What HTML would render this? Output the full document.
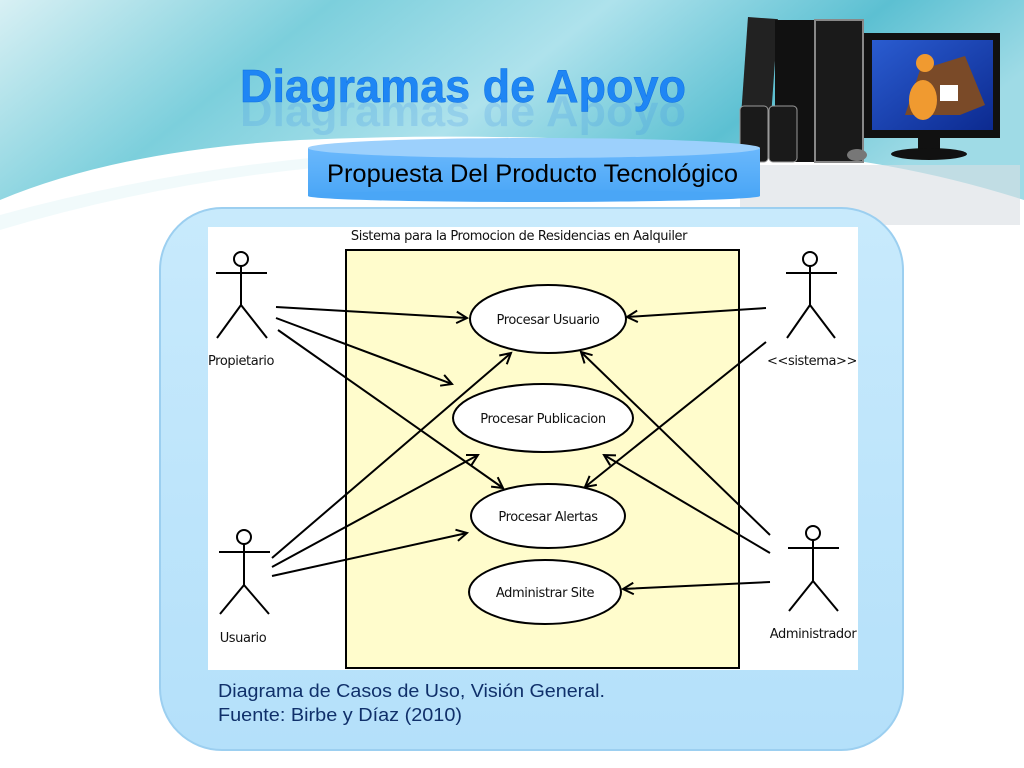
<!DOCTYPE html>
<html><head><meta charset="utf-8"><style>
html,body{margin:0;padding:0}
body{width:1024px;height:768px;position:relative;overflow:hidden;background:#fff;font-family:"Liberation Sans",sans-serif}
.abs{position:absolute}
</style></head><body>
<svg class="abs" style="left:0;top:0" width="1024" height="768">
<defs>
<linearGradient id="bg" x1="0" y1="0" x2="1" y2="0.3">
<stop offset="0" stop-color="#d8f0f4"/><stop offset="0.3" stop-color="#7ccfdc"/><stop offset="0.55" stop-color="#aee2ec"/><stop offset="0.8" stop-color="#5cc0d2"/><stop offset="1" stop-color="#9fdbe6"/>
</linearGradient>
<linearGradient id="pan" x1="0" y1="0" x2="0" y2="1"><stop offset="0" stop-color="#c8eafc"/><stop offset="1" stop-color="#b4e0fa"/></linearGradient>
<linearGradient id="cyl" x1="0" y1="0" x2="0" y2="1"><stop offset="0" stop-color="#6ab8fc"/><stop offset="1" stop-color="#4aa6f6"/></linearGradient>
<linearGradient id="scr" x1="0" y1="0" x2="1" y2="1"><stop offset="0" stop-color="#2a5cd0"/><stop offset="1" stop-color="#0c2a90"/></linearGradient>
</defs>
<rect width="1024" height="240" fill="url(#bg)"/>
<path d="M0,200 Q120,150 300,140 Q520,130 760,150 Q900,160 1024,200 L1024,768 L0,768Z" fill="#fff"/>
<path d="M0,215 Q200,160 420,150 L420,160 Q200,170 0,230Z" fill="#e8f6f8" opacity="0.6"/>
<rect x="740" y="165" width="280" height="60" fill="#d8dde2" opacity="0.6"/>
<rect x="745" y="18" width="30" height="98" fill="#222" transform="rotate(4 760 60)"/>
<rect x="775" y="20" width="88" height="142" fill="#111"/>
<rect x="815" y="20" width="48" height="142" fill="#1a1a1a" stroke="#888" stroke-width="2"/>
<rect x="740" y="106" width="28" height="56" rx="4" fill="#1a1a1a" stroke="#999"/>
<rect x="769" y="106" width="28" height="56" rx="4" fill="#1a1a1a" stroke="#999"/>
<ellipse cx="857" cy="155" rx="10" ry="6" fill="#777"/>
<rect x="864" y="33" width="136" height="105" fill="#111"/>
<rect x="872" y="40" width="121" height="90" fill="url(#scr)"/>
<polygon points="905,115 920,70 965,56 985,105 960,115" fill="#7a4a28"/>
<ellipse cx="923" cy="100" rx="14" ry="20" fill="#f09a30"/>
<circle cx="925" cy="63" r="9" fill="#f09a30"/>
<rect x="940" y="85" width="18" height="16" fill="#fff"/>
<rect x="918" y="138" width="22" height="12" fill="#111"/>
<ellipse cx="929" cy="154" rx="38" ry="6" fill="#111"/>
<rect x="160" y="208" width="743" height="542" rx="62" fill="url(#pan)" stroke="#9ccff0" stroke-width="2"/>
<rect x="308" y="148" width="452" height="48" fill="url(#cyl)"/>
<ellipse cx="534" cy="196" rx="226" ry="6" fill="#4aa6f6"/>
<ellipse cx="534" cy="148" rx="226" ry="10" fill="#9cd0fc"/>
<rect x="208" y="227" width="650" height="443" fill="#fff"/>
<rect x="346" y="250" width="393" height="418" fill="#fffccc" stroke="#000" stroke-width="2"/>
<g fill="#fff" stroke="#000" stroke-width="2">
<ellipse cx="548" cy="319" rx="78" ry="34"/>
<ellipse cx="543" cy="418" rx="90" ry="34"/>
<ellipse cx="548" cy="516" rx="77" ry="32"/>
<ellipse cx="545" cy="592" rx="76" ry="32"/>
</g>
<g font-family="DejaVu Sans,sans-serif" font-size="13" text-anchor="middle" fill="#111" style="letter-spacing:-0.4px">
<text x="548" y="324">Procesar Usuario</text>
<text x="543" y="423">Procesar Publicacion</text>
<text x="548" y="521">Procesar Alertas</text>
<text x="545" y="597">Administrar Site</text>
<text x="519" y="240">Sistema para la Promocion de Residencias en Aalquiler</text>
<text x="241" y="365">Propietario</text>
<text x="812" y="365">&lt;&lt;sistema&gt;&gt;</text>
<text x="243" y="642">Usuario</text>
<text x="813" y="638">Administrador</text>
</g>
<g stroke="#000" stroke-width="2" fill="none">
<circle cx="241" cy="259" r="7"/><path d="M216,273H267M241,266V305L217,338M241,305L267,338"/>
<circle cx="810" cy="259" r="7"/><path d="M786,273H837M810,266V305L787,338M810,305L835,338"/>
<circle cx="244" cy="537" r="7"/><path d="M219,552H270M244,544V585L220,614M244,585L269,614"/>
<circle cx="813" cy="533" r="7"/><path d="M788,548H839M813,540V581L789,611M813,581L838,611"/>
<path d="M276,307L467,318M276,318L452,384M278,330L503,488M272,558L511,353M272,567L478,455M272,576L467,533M766,308L627,317M766,342L585,487M770,535L581,352M770,553L604,455M770,582L623,589"/>
</g>
<g stroke="#000" stroke-width="2" fill="none" id="heads"></g>
<text x="218" y="697" font-size="18" fill="#10306a" textLength="387" lengthAdjust="spacingAndGlyphs">Diagrama de Casos de Uso, Visión General.</text>
<text x="218" y="721" font-size="18" fill="#10306a" textLength="244" lengthAdjust="spacingAndGlyphs">Fuente: Birbe y Díaz (2010)</text>
<text x="327" y="182" font-size="25" fill="#000" textLength="411" lengthAdjust="spacingAndGlyphs">Propuesta Del Producto Tecnológico</text>
<text x="240" y="126" font-size="44" font-weight="bold" fill="#3a8ee8" opacity="0.2" textLength="446" lengthAdjust="spacingAndGlyphs">Diagramas de Apoyo</text>
<text x="240" y="102" font-size="46" font-weight="bold" fill="#1f86f4" stroke="#1070e0" stroke-width="0.5" textLength="446" lengthAdjust="spacingAndGlyphs">Diagramas de Apoyo</text>
</svg>
<script>
var L=[[276,307,467,318],[276,318,452,384],[278,330,503,488],[272,558,511,353],[272,567,478,455],[272,576,467,533],[766,308,627,317],[766,342,585,487],[770,535,581,352],[770,553,604,455],[770,582,623,589]];
var g=document.getElementById('heads'),s='';
L.forEach(function(l){var dx=l[2]-l[0],dy=l[3]-l[1],a=Math.atan2(dy,dx),n=12,w=0.5;
var x1=l[2]-n*Math.cos(a-w),y1=l[3]-n*Math.sin(a-w),x2=l[2]-n*Math.cos(a+w),y2=l[3]-n*Math.sin(a+w);
s+='<path d="M'+x1+','+y1+'L'+l[2]+','+l[3]+'L'+x2+','+y2+'"/>';});
g.innerHTML=s;
</script>
</body></html>
